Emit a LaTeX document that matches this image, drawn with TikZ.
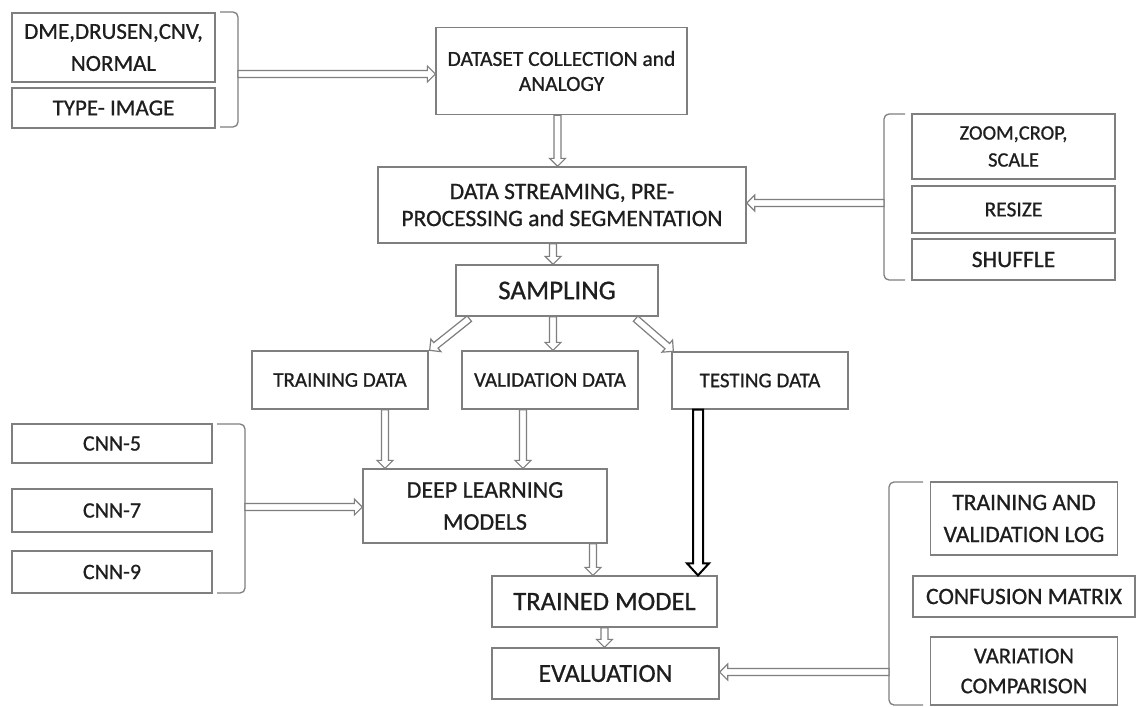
\documentclass[tikz,border=0pt]{standalone}
\usepackage{fontspec}
\setmainfont{Carlito}[RawFeature={embolden=0.8}]
\usetikzlibrary{calc}
\definecolor{boxgray}{HTML}{7F7F7F}
\definecolor{txt}{HTML}{1E1E1E}
\newcommand\fs[2]{\fontsize{#1}{#2}\selectfont}
\def\blkS{3.5pt}\def\blkH{8pt}\def\blkL{8pt}
\tikzset{
  box/.style={draw=boxgray, line width=1.3pt, fill=white, inner sep=0pt,
    align=center, text=txt, font=\fs{22}{28}},
  brk/.style={draw=boxgray, line width=1.3pt, rounded corners=5pt},
  arrowdims/.code n args={3}{\def\blkS{#1}\def\blkH{#2}\def\blkL{#3}},
  blkbase/.style={fill=white, line join=miter, to path={
    let \p1=(\tikztostart), \p2=(\tikztotarget),
        \n1={atan2(\y2-\y1,\x2-\x1)} in
    ($(\p1)+(\n1+90:\blkS)$)
    -- ($(\p2)+(\n1+180:\blkL)+(\n1+90:\blkS)$)
    -- ($(\p2)+(\n1+180:\blkL)+(\n1+90:\blkH)$)
    -- (\p2)
    -- ($(\p2)+(\n1+180:\blkL)+(\n1-90:\blkH)$)
    -- ($(\p2)+(\n1+180:\blkL)+(\n1-90:\blkS)$)
    -- ($(\p1)+(\n1-90:\blkS)$) -- cycle}},
  blk/.style={arrowdims={3.5pt}{8pt}{8pt}, blkbase, draw=boxgray, line width=1.2pt},
  blkblack/.style={arrowdims={5pt}{11pt}{12pt}, blkbase, draw=black, line width=2pt},
}
\begin{document}
\begin{tikzpicture}[x=1pt, y=-1pt]
\useasboundingbox (0,0) rectangle (1136,707);
\fill[white] (0,0) rectangle (1136,707);

% left top group
\node[box, minimum width=203pt, minimum height=69pt, font=\fs{23}{32}] (dme) at (113.5,47.5) {DME,DRUSEN,CNV,\\NORMAL};
\node[box, minimum width=203pt, minimum height=40pt, font=\fs{23}{28}] (type) at (113.5,108) {TYPE- IMAGE};
\draw[brk] (220,12) -- (238,12) -- (238,127) -- (220,127);
\coordinate (b1) at (238,74);

% main column
\node[box, minimum width=251pt, minimum height=87pt, font=\fs{21.5}{25}] (ds) at (561.5,71) {DATASET COLLECTION and\\ANALOGY};
\node[box, minimum width=368pt, minimum height=76pt, font=\fs{23.5}{27}] (dsp) at (562,205) {DATA STREAMING, PRE-\\PROCESSING and SEGMENTATION};
\node[box, minimum width=202pt, minimum height=51pt, font=\fs{27}{30}] (samp) at (557,290.5) {SAMPLING};
\node[box, minimum width=176pt, minimum height=58pt, font=\fs{21}{26}] (train) at (340,380) {TRAINING DATA};
\node[box, minimum width=176pt, minimum height=58pt, font=\fs{21}{26}] (val) at (550,380) {VALIDATION DATA};
\node[box, minimum width=176pt, minimum height=57pt, font=\fs{21}{26}] (test) at (760,380.5) {TESTING DATA};
\node[box, minimum width=244pt, minimum height=74pt, font=\fs{24}{32}] (dl) at (485,506) {DEEP LEARNING\\MODELS};
\node[box, minimum width=225pt, minimum height=51pt, font=\fs{26.5}{30}] (trained) at (604.5,601.5) {TRAINED MODEL};
\node[box, minimum width=227pt, minimum height=51pt, font=\fs{26}{30}] (eval) at (605.5,673.5) {EVALUATION};

% right top group
\node[box, minimum width=203pt, minimum height=65pt, font=\fs{20.5}{27}] (zoom) at (1013.5,146.5) {ZOOM,CROP,\\SCALE};
\node[box, minimum width=203pt, minimum height=47pt, font=\fs{21.5}{26}] (resize) at (1013.5,209.5) {RESIZE};
\node[box, minimum width=203pt, minimum height=41pt, font=\fs{23.5}{26}] (shuffle) at (1013.5,259.5) {SHUFFLE};
\draw[brk] (905,114) -- (884,114) -- (884,280) -- (905,280);
\coordinate (b3) at (884,203);

% left bottom group
\node[box, minimum width=200pt, minimum height=39pt] (cnn5) at (112,443.5) {CNN-5};
\node[box, minimum width=200pt, minimum height=43pt] (cnn7) at (112,510.5) {CNN-7};
\node[box, minimum width=200pt, minimum height=42pt] (cnn9) at (112,572) {CNN-9};
\draw[brk] (217,424) -- (245,424) -- (245,593) -- (217,593);
\coordinate (b2) at (245,507);

% right bottom group
\node[box, minimum width=187pt, minimum height=73pt, font=\fs{23.5}{32}] (tav) at (1024,518.5) {TRAINING AND\\VALIDATION LOG};
\node[box, minimum width=222pt, minimum height=41pt, font=\fs{23.5}{28}] (conf) at (1024,596.5) {CONFUSION MATRIX};
\node[box, minimum width=187pt, minimum height=68pt, font=\fs{22.5}{30}] (var) at (1024,671) {VARIATION\\COMPARISON};
\draw[brk] (923,482) -- (889,482) -- (889,705) -- (923,705);
\coordinate (b4) at (889,672);

% connectors
\draw[blk] (b1) to (b1 -| ds.west);
\coordinate (a2) at ($(ds.south)+(-4,0)$);
\draw[blk] (a2) to (a2 |- dsp.north);
\coordinate (a3) at ($(dsp.south)+(-9,0)$);
\draw[blk] (a3) to (a3 |- samp.north);
\draw[blk] (b3) to (b3 -| dsp.east);
\draw[blk] ($(samp.south west)+(14,2)$) to ($(train.north east)+(1,0)$);
\coordinate (a6) at ($(samp.south)+(-4,0)$);
\draw[blk] (a6) to (a6 |- val.north);
\draw[blk] ($(samp.south east)+(-23,2)$) to ($(test.north west)+(2,0)$);
\coordinate (a8) at ($(train.south)+(45,0)$);
\draw[blk] (a8) to (a8 |- dl.north);
\coordinate (a9) at ($(val.south)+(-27,0)$);
\draw[blk] (a9) to (a9 |- dl.north);
\draw[blk] (b2) to (b2 -| dl.west);
\coordinate (a10) at ($(dl.south)+(108,0)$);
\draw[blk] (a10) to (a10 |- trained.north);
\coordinate (a11) at ($(test.south)+(-62,0)$);
\draw[blkblack] (a11) to (a11 |- trained.north);
\draw[blk] (trained.south) to (trained.south |- eval.north);
\draw[blk] (b4) to (b4 -| eval.east);
\end{tikzpicture}
\end{document}
